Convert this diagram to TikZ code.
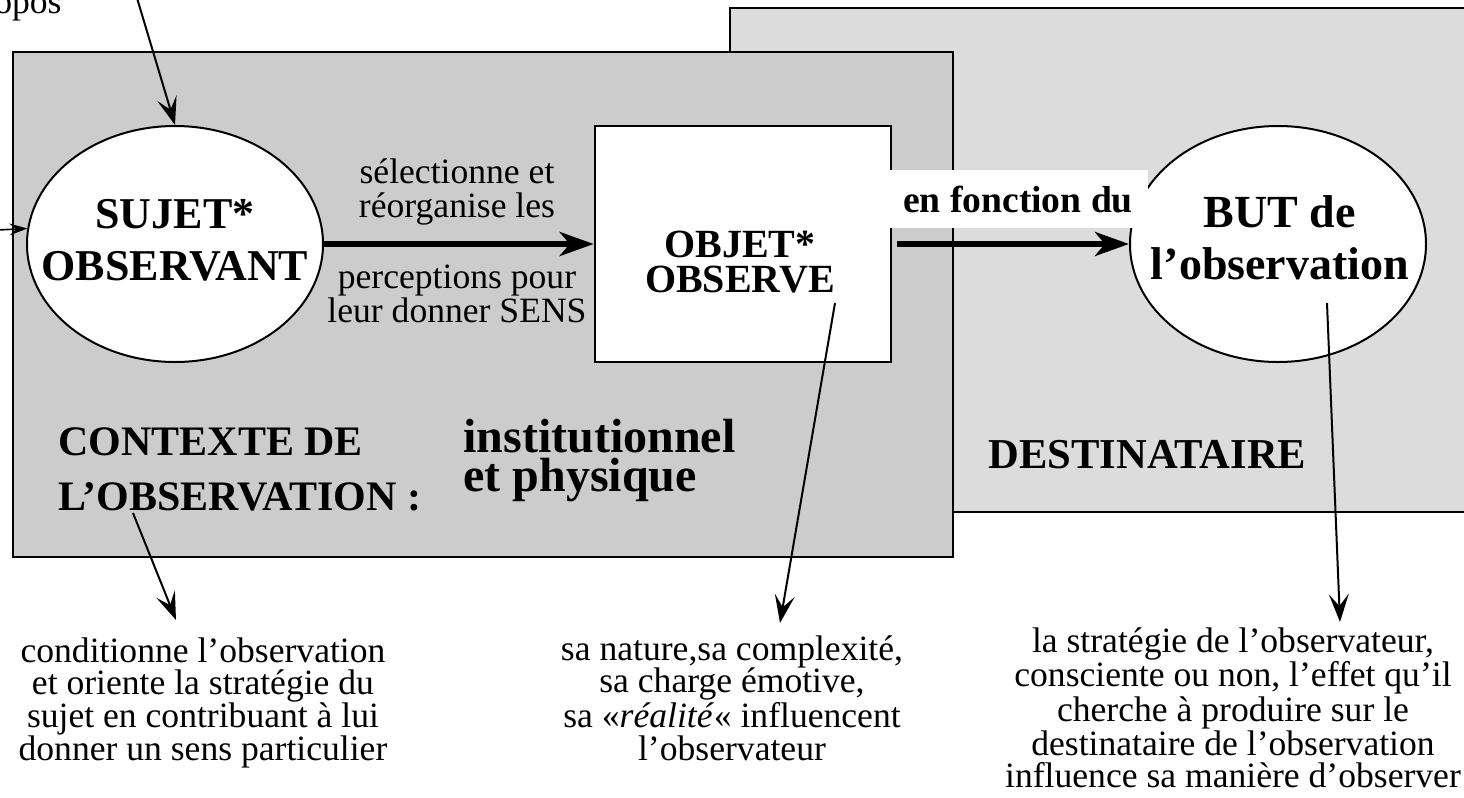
\documentclass[tikz,border=0pt]{standalone}
\usepackage{fontspec}
\setmainfont{Liberation Serif}
\usetikzlibrary{arrows.meta,shapes.geometric}
\definecolor{ctxgray}{HTML}{CCCCCC}
\definecolor{destgray}{HTML}{DCDCDC}
\begin{document}
\begin{tikzpicture}[x=0.5pt,y=-0.5pt,
  panel/.style={draw=black, line width=1.3pt},
  ellip/.style={shape=ellipse, draw=black, line width=1pt, fill=white, minimum width=148pt, minimum height=118pt, inner sep=0pt},
  objbox/.style={rectangle, draw=black, line width=1.3pt, fill=white, minimum width=148pt, minimum height=118pt, inner sep=0pt},
  big/.style={font=\bfseries\fontsize{22}{26}\selectfont, align=center, inner sep=0pt},
  ctxtxt/.style={font=\bfseries\fontsize{21}{27.5}\selectfont, align=left, inner sep=0pt},
  body/.style={font=\fontsize{17.8}{16.3}\selectfont, align=center, inner sep=0pt},
  labelbox/.style={fill=white, minimum width=130pt, minimum height=29pt, inner sep=0pt, font=\bfseries\fontsize{18.8}{20}\selectfont},
  bigarrow/.style={line width=3pt, -{Stealth[length=17pt,width=12pt,inset=5pt]}},
  thinarrow/.style={line width=1pt, -{Stealth[length=14pt,width=10pt,inset=6pt]}},
  smallarrow/.style={line width=0.8pt, -{Stealth[length=9pt,width=6pt,inset=3.5pt]}}]
\useasboundingbox (0,0) rectangle (1464,798);
\clip (0,0) rectangle (1464,798);
\fill[white] (0,0) rectangle (1464,798);
% panels
\draw[panel, fill=destgray] (730,8) rectangle (1480,512);
\draw[panel, fill=ctxgray] (13,52) rectangle (953,557);
% main shapes
\node[ellip] (sujet) at (175,244) {};
\node[big] (sujetlbl) at (175,240) {SUJET*\\OBSERVANT};
\node[objbox] (objet) at (743,244) {};
\node[big, font=\bfseries\fontsize{20}{17.5}\selectfont] (objetlbl) at (740,262) {OBJET*\\OBSERVE};
\node[ellip] (but) at (1278,244) {};
\node[big, font=\bfseries\fontsize{23}{26}\selectfont] (butlbl) at (1280,238) {BUT de\\l’observation};
% arrow labels (base = last line)
\node[body, font=\fontsize{17.8}{17}\selectfont, anchor=base] (sel) at (457,217) {sélectionne et\\réorganise les};
\node[body, font=\fontsize{17.8}{17}\selectfont, anchor=base] (perc) at (457,322) {perceptions pour\\leur donner SENS};
% main arrows
\draw[bigarrow] (sujet.east) -- (objet.west);
\node[labelbox] (fonction) at (1018,199) {en fonction du};
\draw[bigarrow] ([xshift=2.5pt]objet.east) -- (but.west);
% context texts
\node[ctxtxt, anchor=base west] (ctx) at (58,510) {CONTEXTE DE\\L’OBSERVATION :};
\node[ctxtxt, font=\bfseries\fontsize{24}{19.5}\selectfont, anchor=base west] (inst) at (463,491) {institutionnel\\et physique};
\node[ctxtxt, font=\bfseries\fontsize{21.3}{26}\selectfont, anchor=base west] (dest) at (988,468) {DESTINATAIRE};
% top-left partial text and arrows
\node[body, anchor=base east] (propos) at (62,13) {opos};
\coordinate (topstart) at (137,-2);
\draw[thinarrow] (topstart) -- (sujet.north);
\coordinate (leftstart) at (-2,230);
\draw[smallarrow] (leftstart) -- (sujet.174.5);
% bottom arrows
\coordinate (ctxfrom) at (133,513);
\coordinate (ctxto) at (176,620);
\draw[thinarrow] (ctxfrom) -- (ctxto);
\coordinate (objfrom) at (835,303);
\coordinate (objto) at (780,623);
\draw[thinarrow] (objfrom) -- (objto);
\coordinate (butfrom) at (1327,303);
\coordinate (butto) at (1340,622);
\draw[thinarrow] (butfrom) -- (butto);
% bottom descriptions (base = last line)
\node[body, font=\fontsize{17.8}{16.3}\selectfont, anchor=base] (desc1) at (203,760) {conditionne l’observation\\et oriente la stratégie du\\sujet en contribuant à lui\\donner un sens particulier};
\node[body, font=\fontsize{17.8}{16.3}\selectfont, anchor=base] (desc2) at (732,760) {sa nature,sa complexité,\\sa charge émotive,\\sa «\textit{réalité}« influencent\\l’observateur};
\node[body, font=\fontsize{17.8}{15.7}\selectfont, anchor=base] (desc3) at (1233,787) {la stratégie de l’observateur,\\consciente ou non, l’effet qu’il\\cherche à produire sur le\\destinataire de l’observation\\influence sa manière d’observer};
\end{tikzpicture}
\end{document}
